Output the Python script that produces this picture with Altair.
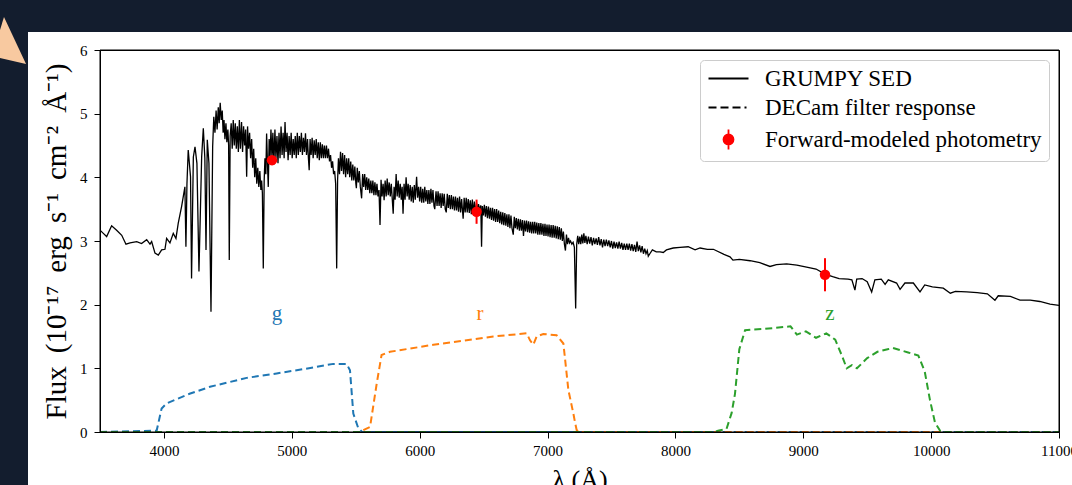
import altair as alt
import pandas as pd

# ---------------- data ----------------
sed_wl = [3500, 3526, 3552, 3591, 3630, 3670, 3703, 3735, 3787, 3825, 3865, 3891, 3904, 3930, 3956,
          3982, 4008, 4021, 4047, 4073, 4094, 4112, 4138, 4164, 4172, 4180, 4190, 4208, 4216, 4230,
          4243, 4258, 4274, 4295, 4308, 4320, 4329, 4339, 4352, 4368,
          4381, 4390, 4399, 4408, 4416, 4425, 4432, 4440, 4448, 4456, 4463, 4470, 4477, 4485, 4492,
          4500, 4506, 4511, 4518, 4526, 4534, 4542, 4550, 4558, 4566, 4574, 4582, 4590, 4598, 4607,
          4615, 4623, 4631, 4639, 4647, 4654, 4662, 4670, 4678, 4686, 4694, 4702, 4710, 4718, 4726,
          4734, 4742, 4750, 4758, 4764, 4770, 4777, 4784, 4790, 4797, 4803, 4810, 4816, 4823, 4830,
          4837, 4845, 4852, 4860, 4868, 4876, 4884, 4892, 4900, 4908, 4916, 4924, 4932, 4940, 4947,
          4955, 4963, 4971, 4979, 4987, 4995, 5003, 5011, 5019, 5027, 5035, 5043, 5051, 5059, 5067,
          5075, 5083, 5091, 5099, 5107, 5115, 5123, 5130, 5136, 5143, 5151, 5159, 5167, 5175, 5183,
          5191, 5199, 5207, 5215, 5223, 5231, 5239, 5247, 5255, 5263, 5271, 5279, 5287, 5295, 5303,
          5311, 5319, 5327, 5335, 5343, 5351, 5358, 5365, 5373, 5381, 5389, 5397, 5405, 5413, 5421,
          5429, 5437, 5445, 5453, 5461, 5469, 5477, 5485, 5493, 5501, 5505, 5512, 5520, 5528, 5536,
          5546, 5554, 5562, 5570, 5578, 5586, 5594, 5602, 5610, 5618, 5626, 5634, 5642, 5650, 5658,
          5666, 5674, 5682, 5690, 5698, 5706, 5714, 5722, 5730, 5738, 5746, 5754, 5762, 5770, 5778,
          5786, 5793, 5800, 5808, 5816, 5824, 5832, 5840, 5848, 5856, 5863, 5870, 5878, 5886, 5894,
          5902, 5910, 5918, 5926, 5934, 5942, 5950, 5958, 5966, 5976, 5984, 5992, 6000, 6008, 6016,
          6024, 6032, 6040, 6048, 6056, 6064, 6072, 6080, 6088, 6096, 6104, 6112, 6118, 6128, 6136,
          6144, 6152, 6160, 6168, 6176, 6184, 6192, 6200, 6208, 6216, 6224, 6232, 6240, 6248, 6256,
          6264, 6272, 6280, 6288, 6296, 6304, 6312, 6320, 6328, 6340, 6348, 6356, 6364, 6372, 6380,
          6388, 6396, 6404, 6412, 6420, 6428, 6436, 6445, 6452, 6460, 6470, 6478, 6484, 6490, 6498,
          6506, 6514, 6522, 6530, 6538, 6546, 6554, 6562, 6570, 6578, 6586, 6594, 6602, 6610, 6618,
          6626, 6634, 6642, 6650, 6658, 6666, 6674, 6682, 6690, 6698, 6706, 6714, 6722, 6732, 6740,
          6748, 6756, 6764, 6772, 6780, 6788, 6796, 6804, 6812, 6820, 6828, 6836, 6844, 6852, 6860,
          6868, 6876, 6884, 6892, 6900, 6908, 6916, 6924, 6932, 6940, 6948, 6956, 6964, 6972, 6980,
          6988, 6996, 7004, 7012, 7020, 7028, 7036, 7044, 7052, 7060, 7068, 7076, 7084, 7092, 7100,
          7108, 7116, 7124, 7132, 7140, 7148, 7156, 7164, 7172, 7180, 7190, 7200, 7210, 7220, 7228,
          7236, 7244, 7252, 7260, 7268, 7276, 7284, 7292, 7300, 7310, 7320, 7330, 7340, 7350, 7360,
          7370, 7380, 7390, 7400, 7410, 7420, 7430, 7440, 7450, 7460, 7470, 7480, 7490, 7500, 7510,
          7520, 7530, 7540, 7550, 7560, 7570, 7580, 7590, 7600, 7610, 7620, 7630, 7640, 7650, 7660,
          7670, 7680, 7690, 7700, 7710, 7720, 7730, 7740, 7750, 7760, 7770, 7780, 7788, 7800, 7820,
          7850, 7880, 7905, 7930, 7983, 8036, 8100, 8154, 8193, 8250, 8297, 8380, 8427, 8450, 8500,
          8584, 8660, 8740, 8790, 8870, 8950, 9026, 9100, 9170, 9230, 9280, 9350, 9380, 9404, 9418,
          9460, 9500, 9535, 9560, 9610, 9640, 9665, 9730, 9757, 9795, 9861, 9913, 9950, 10010, 10095,
          10150, 10190, 10278, 10360, 10440, 10499, 10525, 10620, 10695, 10775, 10850, 10930, 11000]
sed_flux = [3.17, 3.12, 3.07, 3.24, 3.17, 3.09, 2.95, 2.97, 2.99, 2.96, 3.02, 2.95, 2.99, 2.81, 2.78,
            2.86, 2.87, 3.04, 2.97, 3.12, 3.04, 3.28, 3.54, 3.85, 2.91, 3.90, 4.43, 4.01, 2.41, 4.32,
            4.48, 4.22, 2.52, 4.32, 4.77, 4.30, 2.86, 4.59, 4.22, 1.89,
            4.48, 4.95, 4.70, 5.05, 4.75, 5.10, 4.85, 5.17, 4.90, 5.05, 4.70, 4.90, 4.60, 4.85, 4.55,
            4.75, 4.50, 2.70, 4.65, 4.85, 4.45, 4.90, 4.50, 4.85, 4.45, 4.80, 4.40, 4.90, 4.45, 4.87,
            4.40, 4.80, 4.50, 4.75, 4.01, 4.80, 4.45, 4.70, 4.30, 4.60, 4.15, 4.45, 4.00, 4.30, 3.90,
            4.15, 3.85, 4.10, 3.80, 3.95, 3.75, 2.57, 3.95, 4.30, 4.05, 4.69, 4.20, 3.85, 4.60, 4.30,
            4.75, 4.30, 4.70, 4.20, 4.75, 4.30, 4.65, 4.22, 4.70, 4.30, 4.80, 4.35, 4.70, 4.30, 4.87,
            4.40, 4.70, 4.27, 4.65, 4.35, 4.70, 4.30, 4.60, 4.35, 4.65, 4.30, 4.70, 4.35, 4.65, 4.40,
            4.70, 4.35, 4.62, 4.40, 4.69, 4.35, 4.60, 4.30, 4.11, 4.60, 4.35, 4.62, 4.30, 4.58, 4.35,
            4.60, 4.30, 4.55, 4.27, 4.55, 4.30, 4.52, 4.30, 4.50, 4.30, 4.50, 4.30, 4.45, 4.25, 4.35,
            4.15, 4.25, 4.05, 4.10, 3.90, 2.57, 3.95, 4.30, 4.05, 4.40, 4.10, 4.38, 4.05, 4.35, 4.00,
            4.30, 4.05, 4.30, 4.00, 4.25, 3.95, 4.20, 3.95, 4.17, 3.90, 3.83, 4.15, 3.92, 4.10, 3.85,
            3.67, 4.05, 3.85, 4.05, 3.80, 4.00, 3.80, 3.98, 3.75, 3.95, 3.75, 3.95, 3.72, 3.92, 3.72,
            3.90, 3.70, 3.80, 3.25, 3.96, 3.70, 3.90, 3.64, 3.95, 3.70, 3.98, 3.72, 3.92, 3.70, 3.90,
            3.65, 3.43, 3.85, 3.65, 4.05, 3.70, 3.95, 3.68, 3.90, 3.65, 3.85, 3.43, 3.90, 3.65, 4.00,
            3.70, 3.90, 3.65, 3.88, 3.62, 3.85, 3.60, 3.88, 3.65, 4.01, 3.68, 3.85, 3.62, 3.85, 3.60,
            3.82, 3.60, 3.85, 3.62, 3.80, 3.58, 3.80, 3.58, 3.82, 3.60, 3.80, 3.55, 3.50, 3.78, 3.55,
            3.78, 3.55, 3.75, 3.52, 3.75, 3.55, 3.74, 3.50, 3.45, 3.74, 3.52, 3.72, 3.50, 3.72, 3.50,
            3.70, 3.48, 3.70, 3.48, 3.68, 3.46, 3.70, 3.45, 3.66, 3.35, 3.68, 3.45, 3.68, 3.45, 3.66,
            3.44, 3.64, 3.42, 3.65, 3.42, 3.62, 3.42, 3.60, 3.45, 3.58, 3.48, 3.56, 2.91, 3.55, 3.40,
            3.57, 3.38, 3.55, 3.36, 3.54, 3.35, 3.52, 3.33, 3.52, 3.32, 3.50, 3.30, 3.50, 3.30, 3.48,
            3.28, 3.46, 3.26, 3.45, 3.25, 3.44, 3.24, 3.42, 3.22, 3.42, 3.20, 3.40, 3.20, 3.10, 3.38,
            3.20, 3.36, 3.18, 3.35, 3.16, 3.34, 3.16, 3.33, 3.08, 3.32, 3.15, 3.32, 3.14, 3.31, 3.13,
            3.30, 3.12, 3.30, 3.12, 3.30, 3.12, 3.29, 3.10, 3.28, 3.10, 3.28, 3.10, 3.27, 3.08, 3.27,
            3.08, 3.26, 3.07, 3.26, 3.06, 3.25, 3.05, 3.25, 3.05, 3.24, 3.04, 3.23, 3.03, 3.22, 3.02,
            3.20, 3.00, 3.15, 2.95, 2.85, 3.10, 2.95, 3.05, 2.97, 3.00, 2.95, 2.98, 2.90, 1.94, 2.95,
            3.08, 2.95, 3.07, 2.95, 3.10, 2.96, 3.12, 2.97, 3.08, 2.95, 3.07, 2.96, 3.06, 2.93, 3.05,
            2.95, 3.04, 2.94, 3.06, 2.93, 3.03, 2.90, 3.02, 2.92, 3.02, 2.92, 3.01, 2.90, 3.00, 2.88,
            2.99, 2.89, 2.98, 2.88, 2.99, 2.88, 2.97, 2.86, 2.96, 2.86, 2.96, 2.86, 2.96, 2.85, 2.95,
            2.84, 2.94, 2.83, 2.99, 2.84, 2.93, 2.82, 2.92, 2.80, 2.88, 2.80, 2.85, 2.76, 2.80, 2.86,
            2.83, 2.83, 2.82, 2.86, 2.89, 2.90, 2.91, 2.86, 2.89, 2.87, 2.87, 2.79, 2.75, 2.70, 2.71,
            2.69, 2.66, 2.60, 2.63, 2.64, 2.62, 2.59, 2.56, 2.48, 2.44, 2.41, 2.40, 2.39, 2.23, 2.40,
            2.41, 2.36, 2.20, 2.39, 2.40, 2.32, 2.39, 2.34, 2.24, 2.34, 2.34, 2.20, 2.31, 2.28, 2.26,
            2.18, 2.21, 2.20, 2.19, 2.17, 2.07, 2.14, 2.13, 2.07, 2.07, 2.05, 2.01, 1.99]

g_wl = [3500, 3943, 3982, 4021, 4200, 4360, 4647, 4882, 5100, 5325, 5429, 5455, 5481, 5520, 5550, 11000]
g_resp = [0, 0.02, 0.37, 0.45, 0.60, 0.71, 0.85, 0.92, 0.99, 1.07, 1.07, 0.97, 0.29, 0.06, 0, 0]

r_wl = [3500, 5540, 5559, 5612, 5664, 5702, 5768, 6107, 6367, 6576, 6837, 6863, 6889, 6915, 6967,
        7071, 7124, 7163, 7202, 7215, 7228, 7250, 11000]
r_resp = [0, 0, 0.03, 0.08, 0.76, 1.21, 1.26, 1.37, 1.44, 1.50, 1.55, 1.44, 1.37, 1.50, 1.54,
          1.52, 1.39, 0.66, 0.29, 0.15, 0.03, 0, 0]

z_wl = [3500, 8300, 8333, 8400, 8440, 8466, 8500, 8545, 8700, 8900, 8950, 9020, 9100, 9180, 9250,
        9300, 9340, 9380, 9420, 9500, 9580, 9660, 9700, 9820, 9900, 9950, 9991, 10030, 10070, 10100, 11000]
z_resp = [0, 0, 0.02, 0.05, 0.30, 0.60, 1.30, 1.60, 1.62, 1.66, 1.53, 1.58, 1.48, 1.55, 1.45,
          1.21, 1.00, 1.05, 1.00, 1.16, 1.26, 1.30, 1.32, 1.25, 1.20, 0.95, 0.50, 0.15, 0.02, 0, 0]

bands = ["g", "r", "z"]
band_colors = ["#1f77b4", "#ff7f0e", "#2ca02c"]

phot_wl = [4845, 6445, 9170]
phot_flux = [4.27, 3.46, 2.47]
phot_err = [0.06, 0.19, 0.26]

label_wl = [4884, 6472, 9209]
label_y = [1.85, 1.85, 1.85]

legend_labels = ["GRUMPY SED", "DECam filter response", "Forward-modeled photometry"]
x_ticks = [4000, 5000, 6000, 7000, 8000, 9000, 10000, 11000]
y_ticks = [0, 1, 2, 3, 4, 5, 6]

# ---------------- tables ----------------
sed_df = pd.DataFrame({"wl": sed_wl, "flux": sed_flux, "idx": range(len(sed_wl))})
filt_df = pd.concat([
    pd.DataFrame({"wl": w, "flux": f, "band": b, "idx": range(len(w))})
    for w, f, b in [(g_wl, g_resp, "g"), (r_wl, r_resp, "r"), (z_wl, z_resp, "z")]
])
phot_df = pd.DataFrame({"wl": phot_wl, "flux": phot_flux,
                        "lo": [f - e for f, e in zip(phot_flux, phot_err)],
                        "hi": [f + e for f, e in zip(phot_flux, phot_err)]})
lab_df = pd.DataFrame({"wl": label_wl, "flux": label_y, "band": bands})
leg_df = pd.DataFrame({"label": legend_labels, "wl": [0, 0, 0], "flux": [0, 0, 0]})
one_df = pd.DataFrame({"a": [0]})

FONT = "Liberation Serif"
W, H = 959, 382
DARK = "#131d2e"
GAP = "\u00a0\u2009"

xs = alt.Scale(domain=[3500, 11000], nice=False, zero=False)
ys = alt.Scale(domain=[0, 6], nice=False, zero=False)

y_title = f"Flux{GAP}(10⁻¹⁷{GAP}erg{GAP}s⁻¹{GAP}cm⁻²{GAP}Å⁻¹)"

X = alt.X("wl:Q", scale=xs, axis=alt.Axis(values=x_ticks, format="d", title="λ (Å)", zindex=1,
                                          labelFlush=False, titlePadding=8))
Y = alt.Y("flux:Q", scale=ys, axis=alt.Axis(values=y_ticks, format="d", zindex=1, titlePadding=8,
                                            titleFontSize=29, labelPadding=7, title=y_title))
band_color = alt.Color("band:N", scale=alt.Scale(domain=bands, range=band_colors), legend=None)

# dark page margins (top strip and left strip) around the white figure
dark_top = alt.Chart(one_df).mark_rect(color=DARK).encode(
    x=alt.value(-100), x2=alt.value(W + 13), y=alt.value(-50), y2=alt.value(-18))
dark_left = alt.Chart(one_df).mark_rect(color=DARK).encode(
    x=alt.value(-100), x2=alt.value(-72), y=alt.value(-50), y2=alt.value(H + 53))

frame = alt.Chart(one_df).mark_rect(fill=None, stroke="black", strokeWidth=1).encode(
    x=alt.value(0), x2=alt.value(W), y=alt.value(0), y2=alt.value(H))

tri = alt.Chart(one_df).mark_point(filled=True, color="#f8c9a0", opacity=1, size=4).encode(
    x=alt.value(-100), y=alt.value(-50),
    shape=alt.value("M4,17L26,64L-8,56Z"))

filters = alt.Chart(filt_df).mark_line(strokeDash=[7, 4], strokeWidth=2, clip=True).encode(
    x=X, y=Y, color=band_color, order="idx:Q")

sed = alt.Chart(sed_df).mark_line(color="black", strokeWidth=1.3, clip=True).encode(
    x=X, y=Y, order="idx:Q")

errs = alt.Chart(phot_df).mark_rule(color="red", strokeWidth=2).encode(
    x=X, y="lo:Q", y2="hi:Q")

pts = alt.Chart(phot_df).mark_point(filled=True, color="red", opacity=1, size=110).encode(x=X, y=Y)

labels = alt.Chart(lab_df).mark_text(font=FONT, fontSize=21, baseline="middle").encode(
    x=X, y=Y, text="band:N", color=band_color)

legend = alt.Legend(title=None, orient="top-right", offset=10, padding=7, cornerRadius=4,
                    strokeColor="#cccccc", fillColor="white", labelFont=FONT, labelFontSize=23,
                    labelColor="black", symbolSize=400, symbolStrokeWidth=1.8, symbolOffset=10,
                    labelOffset=25, rowPadding=5, labelLimit=400)
leg_paths = ["M-2,0H2",
             "M-2,0H-1.2M-0.8,0H0M0.4,0H1.2M1.6,0H1.8",
             "M0,-1V1M0.5,0A0.5,0.5,0,1,1,-0.5,0A0.5,0.5,0,1,1,0.5,0Z"]
leg_cols = ["black", "black", "red"]
dummy = alt.Chart(leg_df).mark_point(opacity=1, clip=True).encode(
    x=X, y=Y,
    shape=alt.Shape("label:N", scale=alt.Scale(domain=legend_labels, range=leg_paths), legend=legend),
    fill=alt.Fill("label:N", scale=alt.Scale(domain=legend_labels, range=leg_cols), legend=legend),
    stroke=alt.Stroke("label:N", scale=alt.Scale(domain=legend_labels, range=leg_cols), legend=legend),
)

chart = alt.layer(dark_top, dark_left, tri, filters, sed, errs, pts, labels, frame, dummy).properties(
    width=W, height=H,
    background="white",
    autosize=alt.AutoSizeParams(type="none"),
    padding={"left": 100, "top": 50, "right": 13, "bottom": 53},
).configure_view(
    fill="white", stroke="black", strokeWidth=1
).configure_axis(
    grid=False, domainColor="black", domainWidth=1, tickColor="black", tickSize=6, tickWidth=1,
    labelFont=FONT, labelFontSize=15, labelColor="black", labelPadding=5,
    titleFont=FONT, titleFontSize=26, titleColor="black", titleFontWeight="normal",
)

chart.save("out.html", embed_options={"renderer": "svg", "actions": False})
